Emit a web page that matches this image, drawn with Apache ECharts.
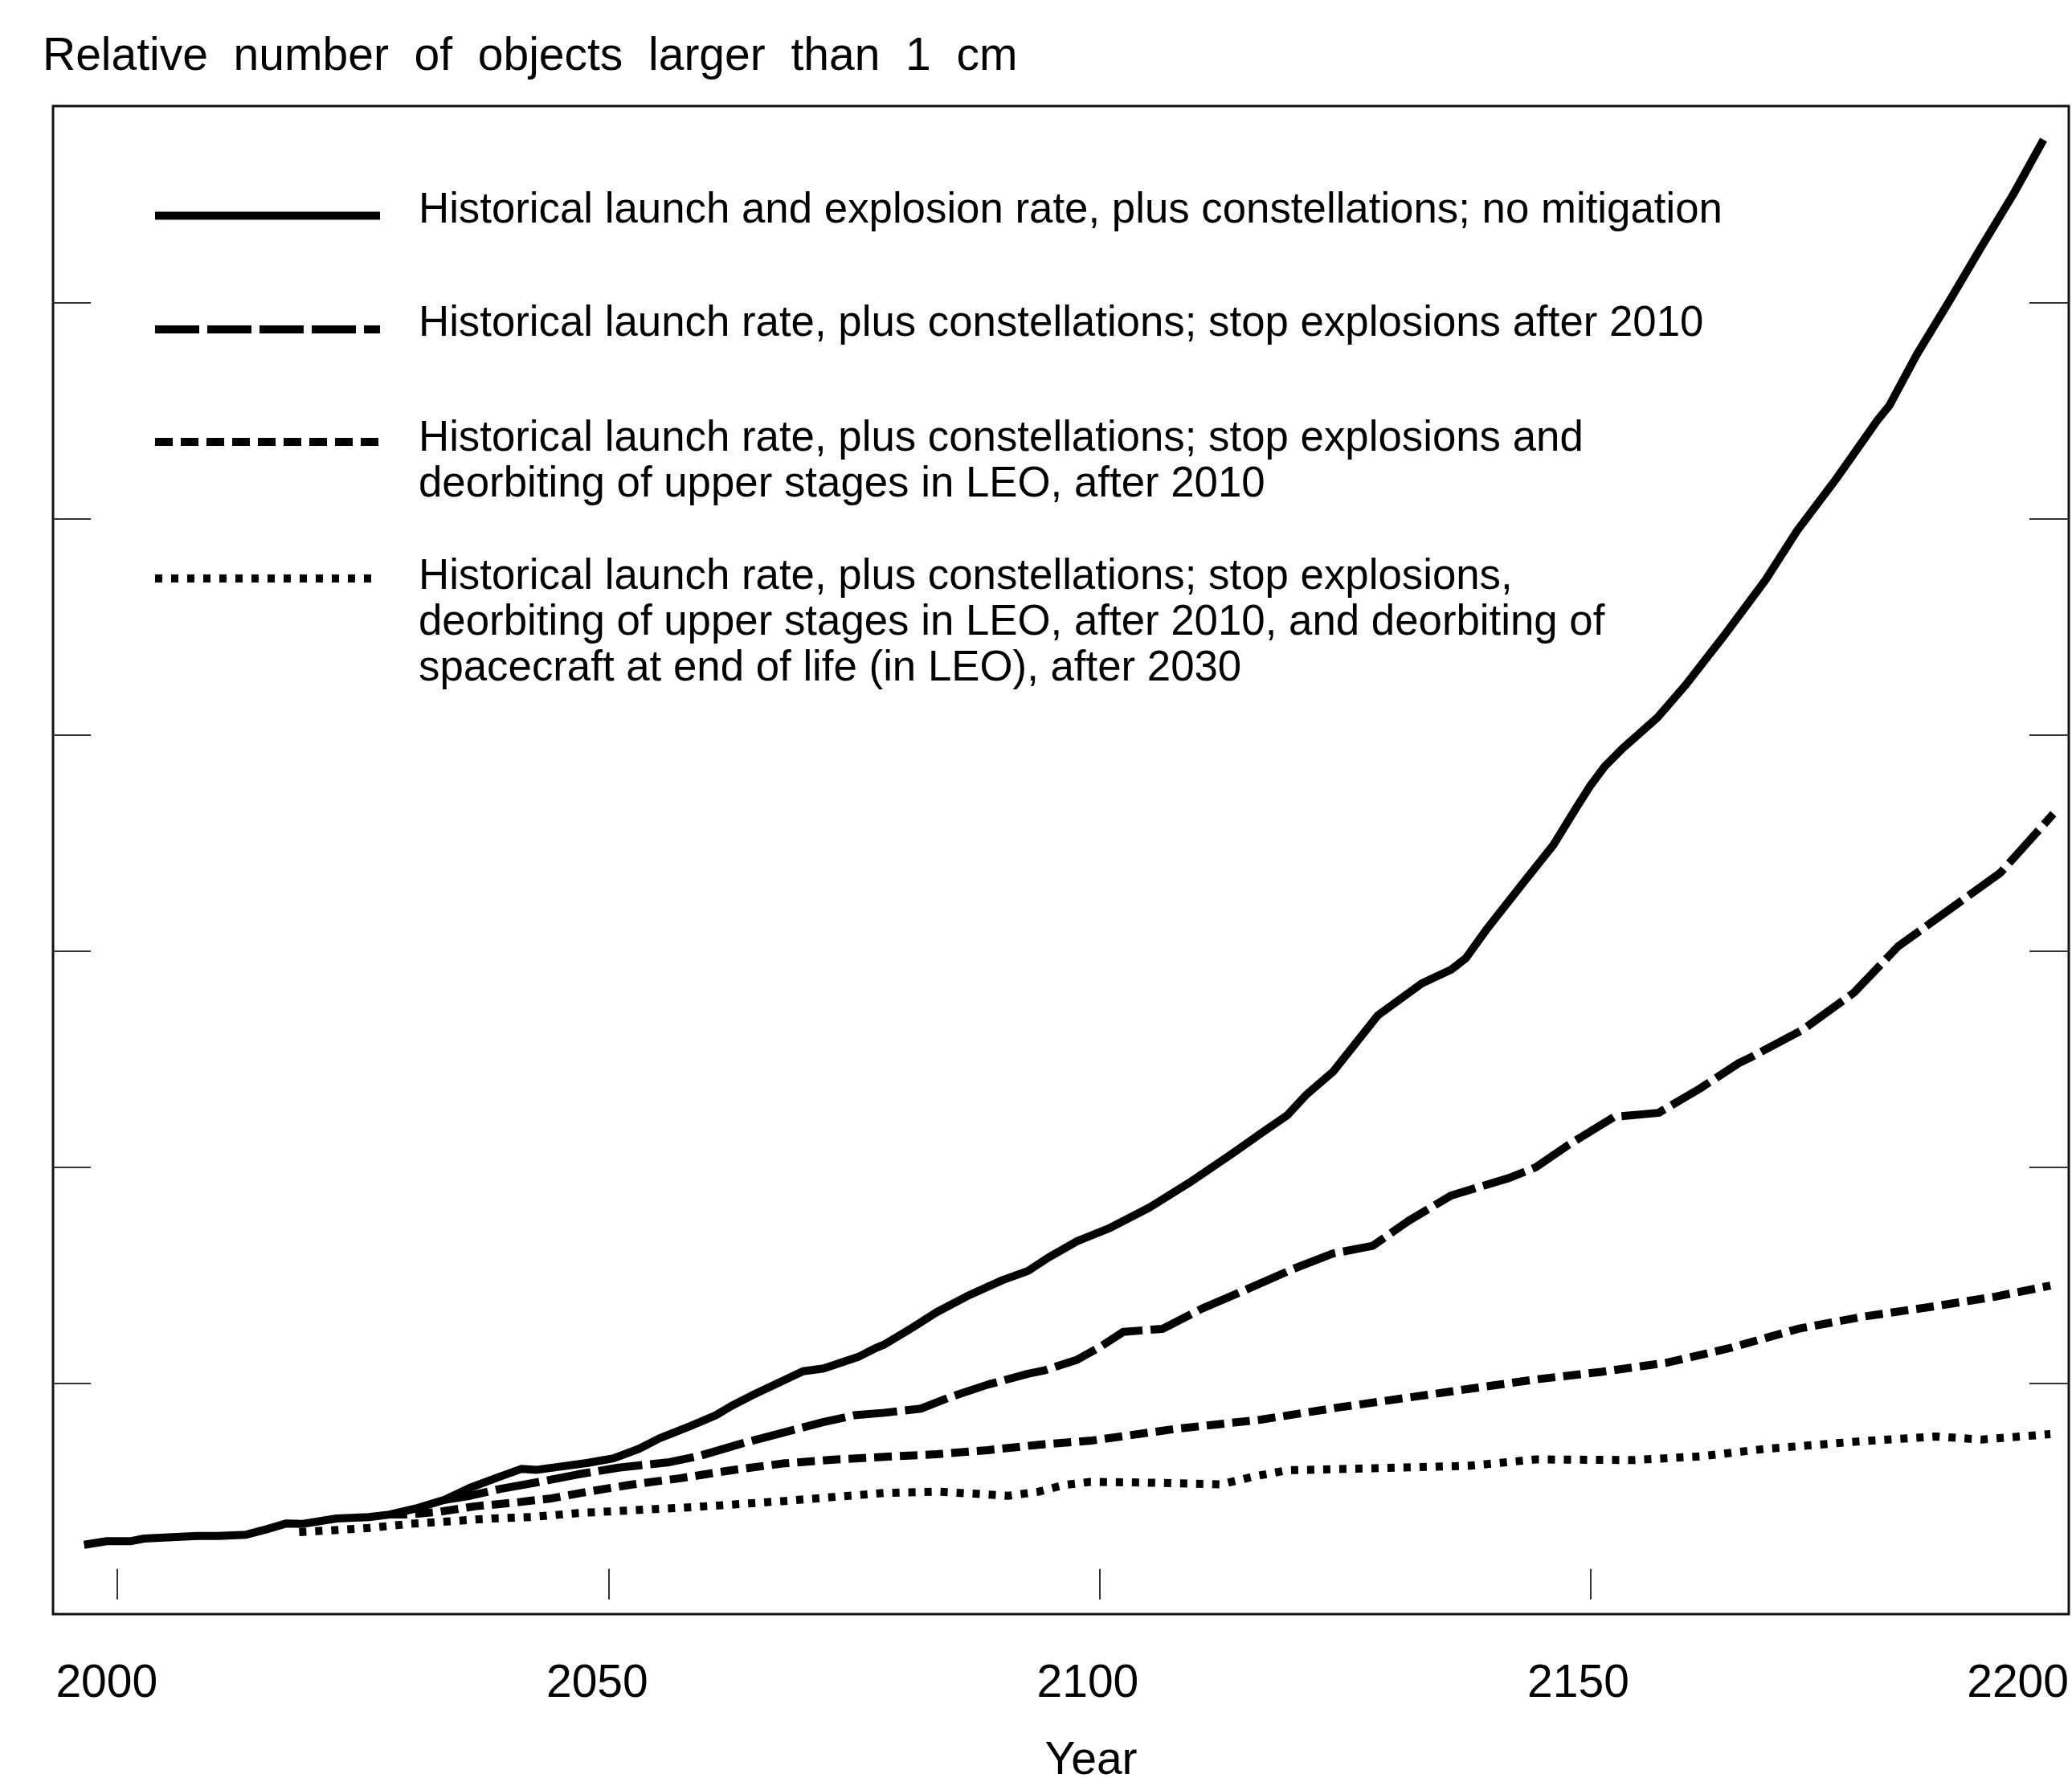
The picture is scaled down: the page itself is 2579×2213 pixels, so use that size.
<!DOCTYPE html>
<html>
<head>
<meta charset="utf-8">
<script src="https://cdn.jsdelivr.net/npm/echarts@6/dist/echarts.min.js"></script>
<style>
  html, body { margin: 0; padding: 0; background: #fff; }
  #chart { width: 2579px; height: 2213px; }
</style>
</head>
<body>
<div id="chart"></div>
<script>
// Relative growth of the debris population (> 1 cm) under four launch / mitigation scenarios.

const TITLE = 'Relative  number  of  objects  larger  than  1  cm';
const X_NAME = 'Year';
const X_TICK_YEARS = [2000, 2050, 2100, 2150];
const X_LABEL_YEARS = [2000, 2050, 2100, 2150, 2200];
const Y_TICK_VALUES = [1, 2, 3, 4, 5, 6];

const SCENARIO_LABELS = [
  'Historical launch and explosion rate, plus constellations; no mitigation',
  'Historical launch rate, plus constellations; stop explosions after 2010',
  'Historical launch rate, plus constellations; stop explosions and\ndeorbiting of upper stages in LEO, after 2010',
  'Historical launch rate, plus constellations; stop explosions,\ndeorbiting of upper stages in LEO, after 2010, and deorbiting of\nspacecraft at end of life (in LEO), after 2030'
];

// [year, relative number]
const noMitigation = [
  [1996.6,0.253],[1998.9,0.270],[2001.4,0.270],[2002.7,0.282],[2005.6,0.288],[2008.1,0.294],
  [2010.2,0.294],[2013.1,0.300],[2015.2,0.325],[2017.2,0.352],[2018.9,0.350],[2022.3,0.375],
  [2025.6,0.381],[2027.7,0.393],[2030.6,0.424],[2033.3,0.461],[2035.9,0.517],[2038.5,0.561],
  [2041.1,0.604],[2042.7,0.600],[2045.3,0.616],[2047.9,0.632],[2050.5,0.653],[2053.1,0.697],
  [2055.2,0.746],[2058.3,0.802],[2060.9,0.852],[2062.5,0.895],[2064.6,0.944],[2067.2,1.000],
  [2069.8,1.056],[2071.9,1.069],[2075.5,1.124],[2077.1,1.161],[2078.1,1.180],[2080.8,1.254],
  [2083.4,1.329],[2086.5,1.403],[2090.1,1.477],[2092.7,1.520],[2094.8,1.582],[2097.7,1.657],
  [2101.1,1.720],[2105.1,1.814],[2109.1,1.927],[2113.7,2.069],[2116.4,2.155],[2119.1,2.240],
  [2121.0,2.333],[2123.8,2.443],[2128.3,2.701],[2132.8,2.850],[2135.8,2.914],[2137.3,2.967],
  [2139.5,3.106],[2143.2,3.319],[2146.2,3.490],[2148.5,3.660],[2150.0,3.767],[2151.4,3.852],
  [2153.2,3.935],[2156.8,4.080],[2159.7,4.232],[2163.7,4.466],[2167.8,4.716],[2171.0,4.943],
  [2175.1,5.190],[2179.2,5.455],[2180.4,5.522],[2183.2,5.759],[2186.5,6.005],[2189.7,6.251],
  [2193.0,6.498],[2196.1,6.752]
];

const stopExplosions = [
  [2033.3,0.461],[2035.9,0.480],[2039.0,0.512],[2042.7,0.542],[2046.9,0.579],[2051.0,0.610],
  [2056.2,0.635],[2059.4,0.666],[2063.5,0.721],[2067.7,0.771],[2071.9,0.821],[2075.0,0.852],
  [2078.1,0.864],[2081.8,0.883],[2084.9,0.938],[2088.6,0.994],[2092.7,1.044],[2094.4,1.060],
  [2097.7,1.109],[2100.0,1.167],[2102.4,1.238],[2106.4,1.252],[2110.4,1.345],[2114.4,1.423],
  [2119.7,1.529],[2123.7,1.600],[2127.8,1.636],[2131.5,1.753],[2135.8,1.869],[2141.7,1.950],
  [2144.4,1.999],[2147.6,2.099],[2152.4,2.233],[2156.9,2.251],[2161.1,2.363],[2165.1,2.482],
  [2166.3,2.508],[2171.6,2.636],[2176.8,2.807],[2181.3,3.021],[2186.5,3.191],[2191.7,3.361],
  [2197.1,3.634]
];

const stopExplosionsUpperStages = [
  [2027.7,0.393],[2029.6,0.393],[2032.8,0.406],[2036.4,0.431],[2040.6,0.449],[2044.2,0.468],
  [2047.9,0.499],[2052.1,0.530],[2057.3,0.561],[2062.5,0.598],[2067.7,0.629],[2072.9,0.647],
  [2078.1,0.660],[2083.4,0.672],[2088.6,0.691],[2093.8,0.716],[2099.0,0.734],[2107.7,0.789],
  [2116.4,0.832],[2124.4,0.889],[2131.1,0.932],[2137.7,0.975],[2144.4,1.018],[2151.1,1.053],
  [2157.8,1.096],[2164.4,1.166],[2171.1,1.252],[2177.8,1.309],[2184.4,1.352],[2191.2,1.401],
  [2196.8,1.452]
];

const fullMitigation = [
  [2018.5,0.312],[2021.4,0.319],[2025.6,0.331],[2029.8,0.350],[2033.9,0.362],[2038.1,0.375],
  [2042.3,0.382],[2046.9,0.400],[2052.1,0.412],[2057.3,0.424],[2062.5,0.439],[2067.7,0.455],
  [2072.9,0.474],[2078.1,0.493],[2083.4,0.499],[2087.5,0.489],[2090.7,0.480],[2093.8,0.499],
  [2096.4,0.530],[2099.0,0.544],[2104.4,0.541],[2112.4,0.533],[2115.7,0.569],[2119.1,0.598],
  [2127.8,0.607],[2137.7,0.619],[2144.4,0.648],[2154.4,0.645],[2161.1,0.662],[2167.8,0.697],
  [2177.8,0.733],[2185.1,0.754],[2189.8,0.740],[2196.8,0.765]
];

const FONT = '"Liberation Sans", Arial, Helvetica, sans-serif';
const INK = '#000';

const chart = echarts.init(document.getElementById('chart'), null, { renderer: 'canvas' });

// line styles per scenario: solid, long dash, short dash, dots
const scenarioDash = ['solid', [55, 10], [22, 10], [9, 11]];
const scenarioData = [noMitigation, stopExplosions, stopExplosionsUpperStages, fullMitigation];

const series = scenarioData.map((d, i) => ({
  type: 'line',
  name: SCENARIO_LABELS[i],
  data: d,
  xAxisIndex: 0,
  yAxisIndex: 0,
  symbol: 'none',
  showSymbol: false,
  smooth: false,
  silent: true,
  animation: false,
  z: 10 - i,
  lineStyle: {
    color: INK,
    width: 10,
    type: scenarioDash[i],
    cap: 'butt',
    join: 'round'
  }
}));

// One legend block per scenario so that each sample line sits beside the
// first line of its (possibly wrapped) description.
//   iconY: centre of the sample line, lh: line height,
//   shiftDown / shiftUp: vertical nudge of the text relative to the sample.
const legendRows = [
  { iconY: 268.5, lines: 1, lh: 80, shiftDown: 0, shiftUp: 13 },
  { iconY: 410,   lines: 1, lh: 80, shiftDown: 0, shiftUp: 13 },
  { iconY: 552,   lines: 2, lh: 57, shiftDown: 49.4, shiftUp: 0 },
  { iconY: 722,   lines: 3, lh: 57, shiftDown: 111.8, shiftUp: 0 }
];

const legends = legendRows.map((r, i) => ({
  orient: 'vertical',
  left: 188,
  // the padded text box grows upwards by half of the downward nudge
  top: r.iconY - (r.lines * r.lh) / 2 - r.shiftDown / 2,
  padding: 0,
  itemWidth: 280,
  itemHeight: 10,
  selectedMode: false,
  data: [SCENARIO_LABELS[i]],
  itemStyle: { opacity: 0 },
  lineStyle: { width: 10, color: INK, cap: 'butt' },
  formatter: (name) => name.split('\n').map((s) => '{t|' + s + '}').join('\n'),
  textStyle: {
    color: INK,
    fontFamily: FONT,
    fontSize: 52.8,
    lineHeight: r.lh,
    backgroundColor: 'rgba(255,255,255,0)',
    rich: {
      t: {
        color: INK,
        fontFamily: FONT,
        fontSize: 52.8,
        lineHeight: r.lh,
        padding: [r.shiftDown, 0, r.shiftUp, 43]
      }
    }
  }
}));

const option = {
  backgroundColor: '#fff',
  animation: false,
  title: {
    text: TITLE,
    left: 53,
    top: 42.5,
    padding: 0,
    textStyle: {
      color: INK,
      fontFamily: FONT,
      fontSize: 57,
      fontWeight: 'normal',
      lineHeight: 57
    }
  },
  legend: legends,
  grid: {
    left: 66,
    right: 4,
    top: 132,
    bottom: 204,
    show: true,
    borderColor: '#111',
    borderWidth: 3,
    backgroundColor: 'transparent',
    outerBoundsMode: 'none',
    containLabel: false
  },
  xAxis: [
    {
      // data axis: carries the series and the inner tick marks
      type: 'value',
      position: 'bottom',
      min: 1993.44,
      max: 2198.67,
      axisLine: { show: false },
      splitLine: { show: false },
      axisLabel: { show: false },
      axisTick: {
        show: true,
        inside: true,
        length: 38,
        customValues: X_TICK_YEARS,
        lineStyle: { color: '#333', width: 2 }
      }
    },
    {
      // year labels and axis title
      type: 'value',
      position: 'bottom',
      offset: 0,
      min: 1994.53,
      max: 2200,
      axisLine: { show: false },
      splitLine: { show: false },
      axisTick: { show: false },
      axisLabel: {
        show: true,
        customValues: X_LABEL_YEARS,
        alignMaxLabel: 'right',
        color: INK,
        fontFamily: FONT,
        fontSize: 57,
        lineHeight: 57,
        margin: 58.5,
        formatter: (v) => String(v)
      },
      name: X_NAME,
      nameLocation: 'middle',
      nameGap: 154.5,
      nameMoveOverlap: false,
      nameTextStyle: {
        color: INK,
        fontFamily: FONT,
        fontSize: 57,
        lineHeight: 57,
        padding: [0, 0, 0, 75]
      }
    }
  ],
  yAxis: [
    {
      type: 'value',
      position: 'left',
      min: -0.0674,
      max: 6.9077,
      axisLine: { show: false },
      splitLine: { show: false },
      axisLabel: { show: false },
      axisTick: {
        show: true,
        inside: true,
        length: 47,
        customValues: Y_TICK_VALUES,
        lineStyle: { color: '#333', width: 2 }
      }
    },
    {
      type: 'value',
      position: 'right',
      min: -0.0674,
      max: 6.9077,
      axisLine: { show: false },
      splitLine: { show: false },
      axisLabel: { show: false },
      axisTick: {
        show: true,
        inside: true,
        length: 49,
        customValues: Y_TICK_VALUES,
        lineStyle: { color: '#333', width: 2 }
      }
    }
  ],
  series: series
};

chart.setOption(option);
</script>
</body>
</html>
